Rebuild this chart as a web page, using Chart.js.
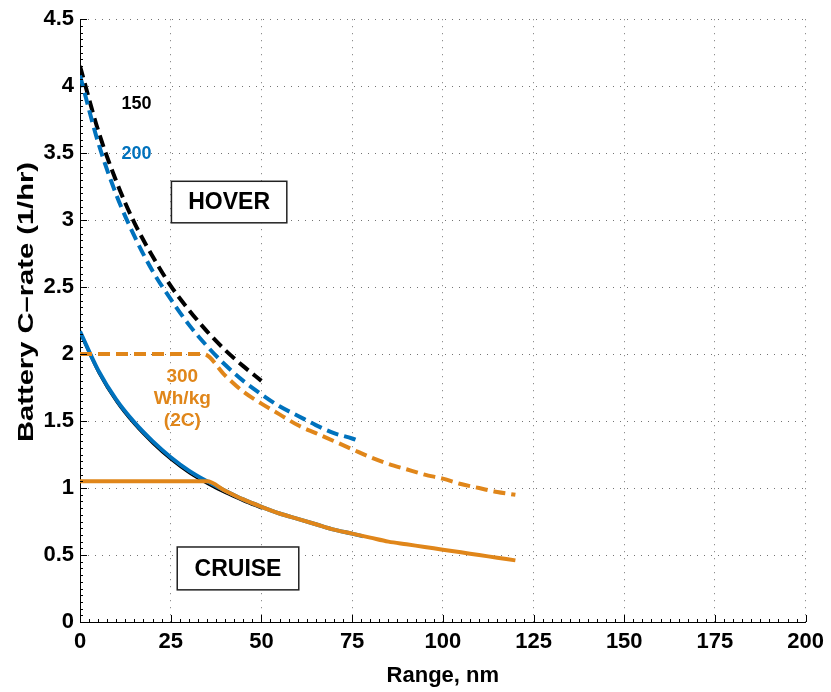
<!DOCTYPE html>
<html>
<head>
<meta charset="utf-8">
<script src="https://cdn.jsdelivr.net/npm/chart.js@4"></script>
<style>
  html, body { margin: 0; padding: 0; background: #fff; }
  #wrap { width: 831px; height: 692px; }
</style>
</head>
<body>
<div id="wrap"><canvas id="grafica" width="831" height="692"></canvas></div>
<script>
// Datos (Range en nm, C-rate en 1/hr)
const xTicks = [0, 25, 50, 75, 100, 125, 150, 175, 200]
const yTicks = [0, 0.5, 1, 1.5, 2, 2.5, 3, 3.5, 4, 4.5]

// HOVER (líneas discontinuas)
const hoverRange150 = [0, 5, 10, 15, 20, 25, 30, 35, 40, 45, 50]
const hover150 = [4.15, 3.67, 3.29, 2.98, 2.73, 2.51, 2.33, 2.17, 2.03, 1.91, 1.80]

const hoverRange200 = [0, 5, 10, 15, 20, 25, 30, 35, 40, 45, 50, 55, 60, 65, 70, 75, 77]
const hover200 = [4.08, 3.58, 3.19, 2.88, 2.62, 2.41, 2.22, 2.06, 1.92, 1.80, 1.70, 1.61, 1.54, 1.47, 1.41, 1.37, 1.35]

const hoverRange300 = [0, 5, 10, 15, 20, 25, 30, 34, 40, 45, 50, 55, 60, 65, 70, 75, 80, 85, 90, 95, 100, 105, 110, 115, 120]
const hover300 = [2, 2, 2, 2, 2, 2, 2, 2, 1.84, 1.72, 1.63, 1.55, 1.47, 1.41, 1.35, 1.29, 1.23, 1.18, 1.14, 1.10, 1.07, 1.03, 1.00, 0.97, 0.95]

// CRUISE (líneas continuas)
const cruiseRange150 = [0, 5, 10, 15, 20, 25, 30, 35, 40, 45, 50]
const cruise150 = [2.15, 1.86, 1.64, 1.47, 1.33, 1.21, 1.11, 1.03, 0.96, 0.90, 0.845]

const cruiseRange200 = [0, 5, 10, 15, 20, 25, 30, 35, 40, 45, 50, 55, 60, 65, 70, 75, 78]
const cruise200 = [2.17, 1.88, 1.66, 1.49, 1.35, 1.23, 1.13, 1.05, 0.98, 0.915, 0.86, 0.81, 0.77, 0.73, 0.69, 0.66, 0.64]

const cruiseRange300 = [0, 5, 10, 15, 20, 25, 30, 35, 40, 45, 50, 55, 60, 65, 70, 75, 80, 85, 90, 95, 100, 105, 110, 115, 120]
const cruise300 = [1.05, 1.05, 1.05, 1.05, 1.05, 1.05, 1.05, 1.05, 0.98, 0.915, 0.86, 0.81, 0.77, 0.73, 0.69, 0.66, 0.63, 0.60, 0.58, 0.56, 0.54, 0.52, 0.50, 0.48, 0.46]

// Textos
const xTitle = 'Range, nm'
const yTitle = 'Battery C\u2013rate (1/hr)'
const labels150 = '150'
const labels200 = '200'
const labels300 = ['300', 'Wh/kg', '(2C)']
const hoverLabel = 'HOVER'
const cruiseLabel = 'CRUISE'

const NEGRO = '#000000'
const AZUL = '#0072BD'
const NARANJA = '#E0861A'
const FUENTE = "'Liberation Sans', Arial, sans-serif"

function puntos(xs, ys){
    return xs.map((x, i) => ({x: x, y: ys[i]}))
}

// Marcas menores y mayores hacia dentro, títulos y anotaciones
const extras = {
    id: 'extras',
    afterDatasetsDraw(chart){
        const ctx = chart.ctx
        const xs = chart.scales.x
        const ys = chart.scales.y
        const a = chart.chartArea
        ctx.save()
        ctx.strokeStyle = '#000'
        ctx.lineWidth = 1
        ctx.beginPath()
        for (let v = 0; v <= 200.01; v += 2.5){
            const px = Math.round(xs.getPixelForValue(v)) + 0.5
            const len = (v % 25 === 0) ? 7 : 3
            ctx.moveTo(px, a.bottom)
            ctx.lineTo(px, a.bottom - len)
        }
        for (let v = 0; v <= 4.501; v += 0.05){
            const py = Math.round(ys.getPixelForValue(v)) + 0.5
            const major = Math.abs(v / 0.5 - Math.round(v / 0.5)) < 1e-6
            ctx.moveTo(a.left, py)
            ctx.lineTo(a.left + (major ? 7 : 3), py)
        }
        ctx.stroke()

        // Cajas HOVER y CRUISE
        function caja(texto, x0, x1, y0, y1){
            const l = xs.getPixelForValue(x0), r = xs.getPixelForValue(x1)
            const t = ys.getPixelForValue(y0), b = ys.getPixelForValue(y1)
            ctx.fillStyle = '#fff'
            ctx.fillRect(l, t, r - l, b - t)
            ctx.strokeStyle = '#222'
            ctx.lineWidth = 1.5
            ctx.strokeRect(l, t, r - l, b - t)
            ctx.fillStyle = '#000'
            ctx.font = 'bold 23px ' + FUENTE
            ctx.textAlign = 'center'
            ctx.textBaseline = 'middle'
            ctx.fillText(texto, (l + r) / 2, (t + b) / 2 + 1)
        }
        caja(hoverLabel, 25.2, 57, 3.29, 2.98)
        caja(cruiseLabel, 26.8, 60.3, 0.56, 0.24)

        ctx.textAlign = 'center'
        ctx.textBaseline = 'middle'
        ctx.font = 'bold 18px ' + FUENTE
        ctx.fillStyle = NEGRO
        ctx.fillText(labels150, xs.getPixelForValue(15.6), ys.getPixelForValue(3.87))
        ctx.fillStyle = AZUL
        ctx.fillText(labels200, xs.getPixelForValue(15.6), ys.getPixelForValue(3.49))
        ctx.fillStyle = NARANJA
        ctx.font = 'bold 19px ' + FUENTE
        const cx = xs.getPixelForValue(28.2)
        const cy = ys.getPixelForValue(1.83)
        labels300.forEach((t, i) => ctx.fillText(t, cx, cy + i * 22))

        // Títulos de ejes
        ctx.fillStyle = '#000'
        ctx.font = 'bold 22px ' + FUENTE
        ctx.fillText(xTitle, (a.left + a.right) / 2, 676)
        ctx.translate(27, 302)
        ctx.rotate(-Math.PI / 2)
        const w = ctx.measureText(yTitle).width
        ctx.scale(280 / w, 1)
        ctx.fillText(yTitle, 0, 0)
        ctx.restore()
    }
}

let ctx = document.getElementById('grafica')
const config = {
    type: 'line',
    data: {
        datasets: [
            {label: 'Hover 300', data: puntos(hoverRange300, hover300), borderColor: NARANJA, borderWidth: 4, borderDash: [12, 6], order: 1},
            {label: 'Cruise 300', data: puntos(cruiseRange300, cruise300), borderColor: NARANJA, borderWidth: 4, order: 2},
            {label: 'Hover 200', data: puntos(hoverRange200, hover200), borderColor: AZUL, borderWidth: 4, borderDash: [12, 6], order: 3},
            {label: 'Cruise 200', data: puntos(cruiseRange200, cruise200), borderColor: AZUL, borderWidth: 4, order: 4},
            {label: 'Hover 150', data: puntos(hoverRange150, hover150), borderColor: NEGRO, borderWidth: 4, borderDash: [12, 6], order: 5},
            {label: 'Cruise 150', data: puntos(cruiseRange150, cruise150), borderColor: NEGRO, borderWidth: 1.5, order: 6}
        ]
    },
    options: {
        responsive: false,
        animation: false,
        layout: {padding: {left: 0, right: 21, top: 18, bottom: 0}},
        elements: {
            point: {radius: 0},
            line: {cubicInterpolationMode: 'monotone', borderCapStyle: 'butt', fill: false}
        },
        plugins: {legend: {display: false}, tooltip: {enabled: false}},
        scales: {
            x: {
                type: 'linear',
                min: 0, max: 200,
                afterBuildTicks: s => { s.ticks = xTicks.map(v => ({value: v})) },
                afterFit: s => { s.height = 70 },
                ticks: {color: '#000', padding: 7, font: {family: FUENTE, weight: 'bold', size: 22}},
                grid: {color: 'rgba(0,0,0,0.55)', lineWidth: 1, drawTicks: false},
                border: {display: true, color: '#000', width: 1, dash: [1, 6]}
            },
            y: {
                min: 0, max: 4.5,
                afterBuildTicks: s => { s.ticks = yTicks.map(v => ({value: v})) },
                afterFit: s => { s.width = 80 },
                ticks: {color: '#000', padding: 6, font: {family: FUENTE, weight: 'bold', size: 22},
                        callback: v => String(v)},
                grid: {color: 'rgba(0,0,0,0.55)', lineWidth: 1, drawTicks: false},
                border: {display: true, color: '#000', width: 1, dash: [1, 6]}
            }
        }
    },
    plugins: [extras]
}

// Creación de la gráfica
let myChart = new Chart(ctx, config)
</script>
</body>
</html>
